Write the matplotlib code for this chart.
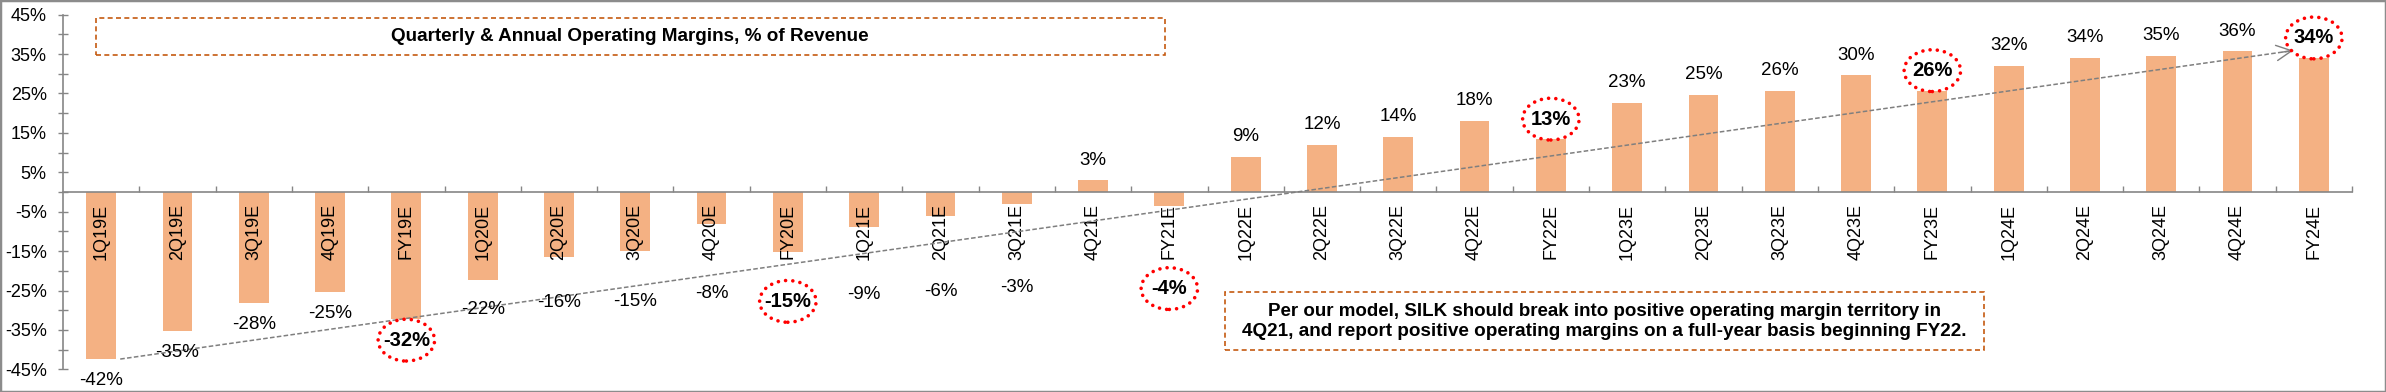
import matplotlib
matplotlib.use("Agg")
import matplotlib.pyplot as plt
from matplotlib.patches import Rectangle, Ellipse
import numpy as np

plt.rcParams['font.family'] = ['Liberation Sans', 'DejaVu Sans']

categories = ["1Q19E", "2Q19E", "3Q19E", "4Q19E", "FY19E",
              "1Q20E", "2Q20E", "3Q20E", "4Q20E", "FY20E",
              "1Q21E", "2Q21E", "3Q21E", "4Q21E", "FY21E",
              "1Q22E", "2Q22E", "3Q22E", "4Q22E", "FY22E",
              "1Q23E", "2Q23E", "3Q23E", "4Q23E", "FY23E",
              "1Q24E", "2Q24E", "3Q24E", "4Q24E", "FY24E"]
margins = [-42.4, -35.3, -28.2, -25.4, -32.2,
           -22.4, -16.4, -15.0, -8.1, -15.2,
           -8.8, -6.0, -3.0, 3.0, -3.6,
           8.9, 12.0, 14.0, 18.0, 13.4,
           22.6, 24.6, 25.7, 29.6, 25.7,
           32.0, 34.0, 34.6, 35.7, 34.0]
y_ticks = [-45, -35, -25, -15, -5, 5, 15, 25, 35, 45]
title = "Quarterly & Annual Operating Margins, % of Revenue"
note_lines = ["Per our model, SILK should break into positive operating margin territory in",
              "4Q21, and report positive operating margins on a full-year basis beginning FY22."]

BAR = '#F4B183'
GRAY = '#868686'
ORANGE = '#C55A11'

W, H = 2386, 392
fig = plt.figure(figsize=(W / 100, H / 100), dpi=100)
ax = fig.add_axes([63 / W, 1 - 369.3 / H, (2352 - 63) / W, (369.3 - 14.7) / H])
ax.set_axisbelow(False)

x = np.arange(len(categories))
ax.bar(x, margins, width=0.39, color=BAR, zorder=1)
ax.set_xlim(-0.5, len(categories) - 0.5)
ax.set_ylim(-45, 45)

for s in ['top', 'right']:
    ax.spines[s].set_visible(False)
ax.spines['left'].set_color(GRAY)
ax.spines['bottom'].set_color(GRAY)
ax.spines['bottom'].set_position(('data', 0))
ax.spines['left'].set_linewidth(1.2)
ax.spines['bottom'].set_linewidth(1.2)

ax.set_yticks(y_ticks)
ax.set_yticks(np.arange(-40, 45, 10), minor=True)
ax.set_yticklabels([f"{t}%" for t in y_ticks], fontsize=13)
ax.tick_params(axis='y', which='both', direction='inout', length=7.5, color=GRAY, width=1.0, pad=8)

ax.set_xticks(x)
ax.set_xticklabels(categories, rotation=90, fontsize=13, va='top')
ax.tick_params(axis='x', which='major', length=0, pad=8.5)
ax.set_xticks(np.arange(0.5, len(categories)), minor=True)
ax.tick_params(axis='x', which='minor', direction='in', length=4.3, color=GRAY, width=1.0)

circled = [i for i, c in enumerate(categories) if c.startswith("FY")]
for i, v in enumerate(margins):
    if v >= 0:
        ly = v + 5.1
    else:
        ly = min(v - 5.4, -23.5 + 0.28 * v)
    txt = f"{round(v):d}%"
    if i in circled:
        ax.text(i, ly, txt, ha='center', va='center', fontsize=14.5, fontweight='bold',
                zorder=5, clip_on=False)
        e = Ellipse((i, ly), width=0.74, height=10.6, fill=False, edgecolor='#FF0000',
                    linewidth=2.6, linestyle=(0, (0.01, 2.0)), zorder=6, clip_on=False)
        e.set_capstyle('round')
        ax.add_patch(e)
    else:
        ax.text(i, ly, txt, ha='center', va='center', fontsize=13.5, zorder=5, clip_on=False)

# trend arrow from first bar to the peak
x0, y0 = 0.25, margins[0]
x1, y1 = len(categories) - 1 - 0.27, max(margins) + 0.2
ax.plot([x0, x1], [y0, y1], color='#7F7F7F', lw=1.1, linestyle=(0, (3, 1.5)), zorder=4)
dx, dy = (x1 - x0) * 0.005, (y1 - y0) * 0.005
ax.annotate('', xy=(x1, y1), xytext=(x1 - dx, y1 - dy),
            arrowprops=dict(arrowstyle='->,head_length=1.1,head_width=0.55', color='#7F7F7F',
                            lw=1.0, shrinkA=0, shrinkB=0), zorder=4)

# title box
fig.patches.append(Rectangle((96 / W, 1 - 55 / H), (1164.5 - 96) / W, (55 - 18.3) / H,
                             transform=fig.transFigure, fill=False, edgecolor=ORANGE,
                             linewidth=1.2, linestyle=(0, (3, 2))))
t_title = fig.text((96 + 1164.5) / 2 / W, 1 - 36.5 / H, title, ha='center', va='center',
                   fontsize=14, fontweight='bold')

# note box
fig.patches.append(Rectangle((1225 / W, 1 - 350 / H), (1984 - 1225) / W, (350 - 292) / H,
                             transform=fig.transFigure, fill=False, edgecolor=ORANGE,
                             linewidth=1.2, linestyle=(0, (3, 2))))
t1 = fig.text(1604.5 / W, 1 - 311 / H, note_lines[0], ha='center', va='center',
              fontsize=13.5, fontweight='bold')
t2 = fig.text(1604.5 / W, 1 - 332 / H, note_lines[1], ha='center', va='center',
              fontsize=13.5, fontweight='bold')

# outer frame
fig.patches.append(Rectangle((0, 0), 1, 1, transform=fig.transFigure, fill=False,
                             edgecolor='#8C8C8C', linewidth=2.5))

# fit text widths to reference
r = fig.canvas.get_renderer()
for t, target in [(t_title, 478), (t1, 673), (t2, 722)]:
    w = t.get_window_extent(r).width
    t.set_fontsize(t.get_fontsize() * target / w)

fig.savefig("out.png", dpi=100)
